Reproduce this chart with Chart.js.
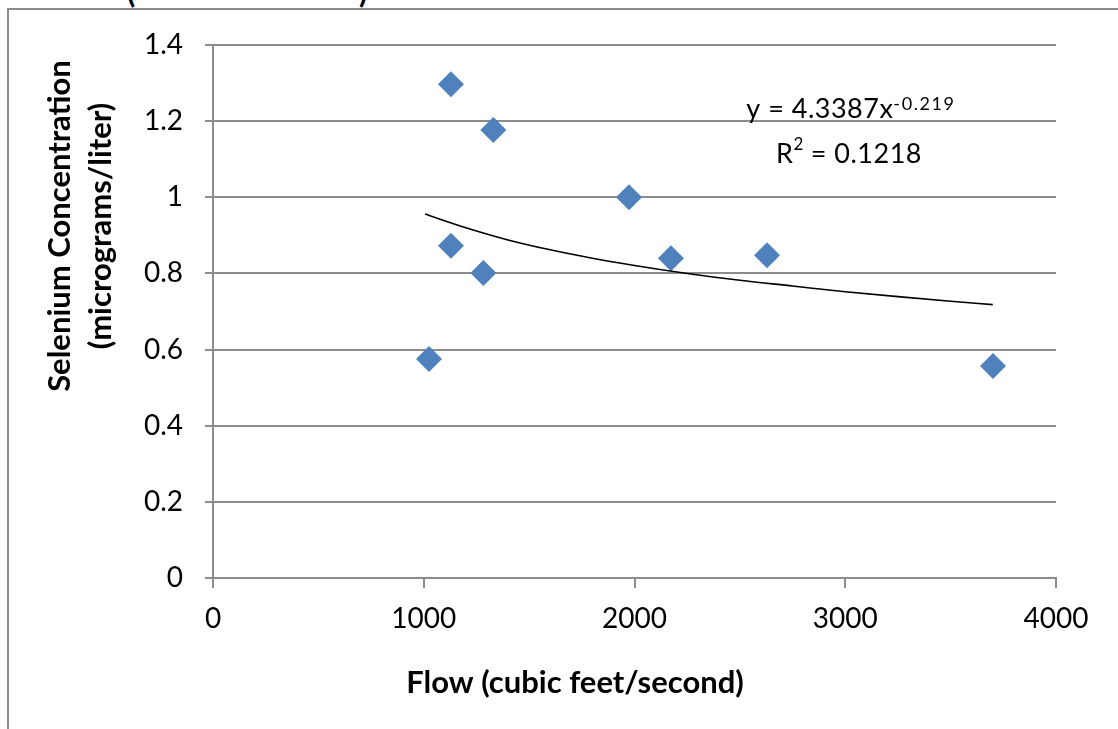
<!DOCTYPE html>
<html>
<head>
<meta charset="utf-8">
<script src="https://cdn.jsdelivr.net/npm/chart.js@4"></script>
<style>
  html, body { margin:0; padding:0; background:#fff; overflow:hidden; }
  #frame { position:absolute; left:7px; top:8px; width:1200px; height:800px; border:2px solid #8c8c8c; }
  #wrap { position:absolute; left:0; top:0; width:1118px; height:729px; }
  .cut { position:absolute; top:-27px; font:bold 30px Lato; color:#000; }
</style>
</head>
<body>
<div id="frame"></div>
<span class="cut" style="left:127px">(</span>
<span class="cut" style="left:359px">)</span>
<div id="wrap"><canvas id="chart" width="1118" height="729"></canvas></div>
<script>
// 측정값 (flow cfs, selenium ug/L)
const flow = [1025, 1129, 1129, 1283, 1330, 1974, 2173, 2629, 3701];
const selenium = [0.575, 1.297, 0.873, 0.801, 1.177, 1.000, 0.840, 0.848, 0.557];

// 추세선
const trendFlow = [1006, 1200, 1400, 1600, 1800, 2000, 2250, 2500, 2750, 3000, 3250, 3500, 3700];
const trendConc = [0.956, 0.920, 0.888, 0.862, 0.840, 0.821, 0.800, 0.782, 0.767, 0.752, 0.739, 0.727, 0.718];

const xTickLabels = ['0', '1000', '2000', '3000', '4000'];
const yTickLabels = ['0', '0.2', '0.4', '0.6', '0.8', '1', '1.2', '1.4'];

const eqText = 'y = 4.3387x';
const eqPower = '-0.219';
const r2Text = ['R', '2', ' = 0.1218'];

const xTitle = 'Flow (cubic feet/second)';
const yTitle = ['Selenium Concentration', '(micrograms/liter)'];

const gridColor = '#8c8c8c';

// 글자 폭 측정 (자간 포함)
function textW(ctx, font, spacing, s) {
  ctx.font = font;
  ctx.letterSpacing = spacing + 'px';
  return ctx.measureText(s).width;
}
function put(ctx, font, spacing, s, x, y) {
  ctx.font = font;
  ctx.letterSpacing = spacing + 'px';
  ctx.fillText(s, x, y);
}

const textPlugin = {
  id: 'texts',
  afterDraw(chart) {
    const ctx = chart.ctx;
    ctx.save();
    ctx.fillStyle = '#000';
    ctx.textBaseline = 'alphabetic';
    ctx.textAlign = 'left';

    const big = '27px Lato', small = '18px Lato';

    // 추세선 식
    const w1 = textW(ctx, big, 0.5, eqText);
    const w2 = textW(ctx, small, 1.6, eqPower);
    let x0 = 851 - (w1 + w2) / 2;
    put(ctx, big, 0.5, eqText, x0, 118);
    put(ctx, small, 1.6, eqPower, x0 + w1, 110);

    // R^2
    const a = textW(ctx, big, 0.5, r2Text[0]);
    const b = textW(ctx, '17px Lato', 0, r2Text[1]);
    const c = textW(ctx, big, 0.5, r2Text[2]);
    x0 = 849 - (a + b + c) / 2;
    put(ctx, big, 0.5, r2Text[0], x0, 163);
    put(ctx, '17px Lato', 0, r2Text[1], x0 + a, 150);
    put(ctx, big, 0.5, r2Text[2], x0 + a + b, 163);

    // 축 제목
    ctx.letterSpacing = '0px';
    ctx.font = 'bold 31px Lato';
    ctx.textAlign = 'center';
    ctx.textBaseline = 'middle';
    ctx.fillText(xTitle, 575, 683);

    ctx.translate(0, 226);
    ctx.rotate(-Math.PI / 2);
    ctx.fillText(yTitle[0], 0, 60);
    ctx.fillText(yTitle[1], 0, 101);
    ctx.restore();
  }
};

new Chart(document.getElementById('chart'), {
  type: 'scatter',
  data: {
    datasets: [{
      data: flow.map((f, i) => ({x: f, y: selenium[i]})),
      pointStyle: 'rectRot',
      pointRadius: 13,
      pointHoverRadius: 13,
      backgroundColor: '#4F81BD',
      borderColor: '#4F81BD',
      borderWidth: 0,
      order: 1
    }, {
      type: 'line',
      data: trendFlow.map((f, i) => ({x: f, y: trendConc[i]})),
      borderColor: '#000',
      borderWidth: 1.6,
      pointRadius: 0,
      fill: false,
      cubicInterpolationMode: 'monotone',
      order: 0
    }]
  },
  options: {
    responsive: false,
    animation: false,
    events: [],
    layout: { padding: { left: 0, top: 45, right: 62, bottom: 0 } },
    plugins: {
      legend: { display: false },
      tooltip: { enabled: false }
    },
    scales: {
      x: {
        type: 'linear',
        min: 0,
        max: 4000,
        afterFit: s => { s.height = 151; },
        ticks: {
          stepSize: 1000,
          padding: 14,
          color: '#000',
          font: { family: 'Lato', size: 28 },
          callback: (v, i) => xTickLabels[i]
        },
        grid: {
          drawOnChartArea: false,
          drawTicks: true,
          tickLength: 10,
          color: gridColor,
          lineWidth: 2
        },
        border: { display: true, color: gridColor, width: 2 }
      },
      y: {
        min: 0,
        max: 1.4,
        afterFit: s => { s.width = 213; },
        ticks: {
          stepSize: 0.2,
          padding: 22,
          color: '#000',
          font: { family: 'Lato', size: 28 },
          callback: (v, i) => yTickLabels[i]
        },
        grid: {
          color: gridColor,
          lineWidth: 2,
          tickLength: 8
        },
        border: { display: true, color: gridColor, width: 2 }
      }
    }
  },
  plugins: [textPlugin]
});
</script>
</body>
</html>
